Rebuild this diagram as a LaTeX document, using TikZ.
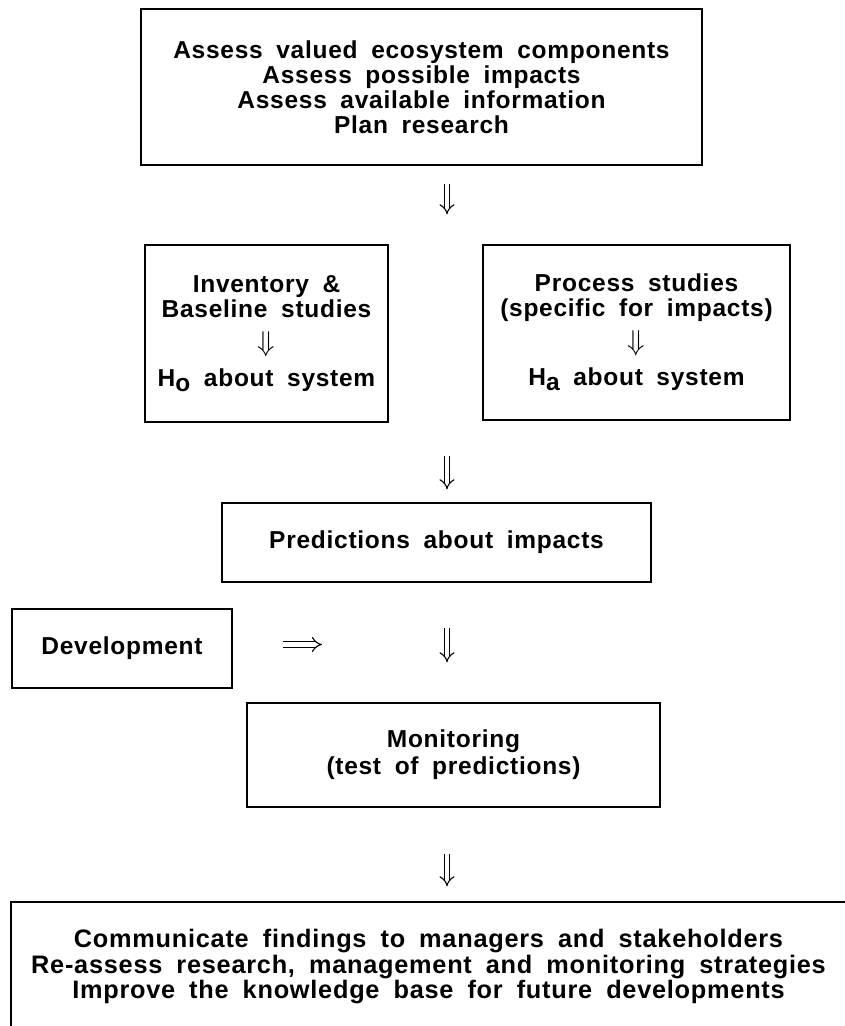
\documentclass[tikz,border=0pt]{standalone}
\usepackage{fontspec}
\setmainfont{Liberation Sans}
\newfontfamily\boxfont{Liberation Sans}[LetterSpace=3,WordSpace=1.8]
\usetikzlibrary{arrows.meta}

\tikzset{
  box/.style={draw, line width=1.3pt, align=center, inner sep=0pt,
    font=\boxfont\bfseries\fontsize{24.5}{25}\selectfont},
  flow/.style={double, double distance=4.2pt, line width=1.1pt, -{Implies}},
}
\newcommand\hsub[1]{H\raisebox{-5pt}{#1}}
\newcommand\down{\scalebox{1.15}{$\Downarrow$}}

\begin{document}
\begin{tikzpicture}[x=1pt,y=-1pt]
\useasboundingbox (0,0) rectangle (845,1026);
\clip (0,0) rectangle (845,1026);

% boxes
\node[box, minimum width=561pt, minimum height=156pt] (assess) at (421.5,87)
  {Assess valued ecosystem components\\Assess possible impacts\\
   Assess available information\\Plan research};
\node[box, minimum width=243pt, minimum height=177pt] (baseline) at (266.5,333.5)
  {Inventory \&\\Baseline studies\\[9pt]\down\\[10pt]\hsub{o} about system};
\node[box, minimum width=307pt, minimum height=175pt] (process) at (636.5,332.5)
  {Process studies\\(specific for impacts)\\[9pt]\down\\[10pt]\hsub{a} about system};
\node[box, minimum width=429pt, minimum height=79pt] (predict) at (436.5,542.5)
  {Predictions about impacts};
\node[box, minimum width=220pt, minimum height=79pt] (develop) at (122,648.5)
  {Development};
\node[box, minimum width=413pt, minimum height=104pt] (monitor) at (453.5,755)
  {Monitoring\\[2pt](test of predictions)};
\node[box, minimum width=835pt, minimum height=130pt,
  font=\boxfont\bfseries\fontsize{25.3}{25.5}\selectfont] (report) at (428.5,967)
  {Communicate findings to managers and stakeholders\\
   Re-assess research, management and monitoring strategies\\
   Improve the knowledge base for future developments};

% flow arrows
\coordinate (spine) at (447,0);
\draw[flow, shorten <=18pt, shorten >=30pt] (spine |- assess.south) -- (spine |- baseline.north);
\draw[flow, shorten <=33pt, shorten >=13pt] (spine |- baseline.south) -- (spine |- predict.north);
\draw[flow, shorten <=45pt, shorten >=40pt] (spine |- predict.south) -- (spine |- monitor.north);
\draw[flow, shorten <=46pt, shorten >=15pt] (spine |- monitor.south) -- (spine |- report.north);
\draw[flow, shorten <=50pt, shorten >=125pt] ([yshift=4pt]develop.east) -- ([yshift=4pt]spine |- develop.east);
\end{tikzpicture}
\end{document}
